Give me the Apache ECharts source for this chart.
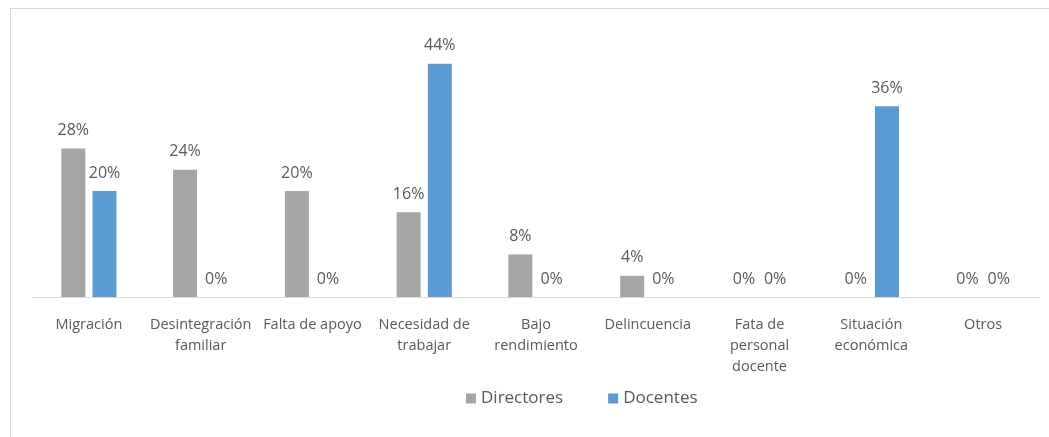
<!DOCTYPE html>
<html>
<head>
<meta charset="utf-8">
<script src="https://cdn.jsdelivr.net/npm/echarts@6/dist/echarts.min.js"></script>
<style>
  html, body { margin: 0; padding: 0; background: #fff; }
  #frame {
    position: absolute; left: 10px; top: 8px; width: 1060px; height: 460px;
    border-left: 1px solid #d9d9d9; border-top: 1px solid #d9d9d9;
  }
  #chart { position: absolute; left: 0; top: 0; width: 1049px; height: 437px; }
</style>
</head>
<body>
<div id="frame"></div>
<div id="chart"></div>
<script>
// categorias del grafico
var categories = [
  'Migración',
  'Desintegración\nfamiliar',
  'Falta de apoyo',
  'Necesidad de\ntrabajar',
  'Bajo\nrendimiento',
  'Delincuencia',
  'Fata de\npersonal\ndocente',
  'Situación\neconómica',
  'Otros'
]
// porcentajes
var directores = [28, 24, 20, 16, 8, 4, 0, 0, 0]
var docentes = [20, 0, 0, 44, 0, 0, 0, 36, 0]

var textColor = '#595959'
var fontFamily = 'Open Sans'

var myChart = echarts.init(document.getElementById('chart'))
var labelOpt = {
  show: true,
  position: 'top',
  distance: 10,
  color: textColor,
  fontSize: 16,
  fontFamily: fontFamily,
  formatter: '{c}%'
}
var option = {
  animation: false,
  grid: {
    left: 33,
    right: 10,
    top: 32,
    bottom: 140
  },
  legend: {
    left: 461,
    top: 385,
    itemWidth: 10,
    itemHeight: 10,
    itemGap: 45,
    icon: 'rect',
    textStyle: {
      color: textColor,
      fontSize: 17,
      fontFamily: fontFamily
    },
    data: ['Directores', 'Docentes']
  },
  xAxis: {
    type: 'category',
    data: categories,
    axisLine: {
      lineStyle: {
        color: '#d9d9d9',
        width: 1
      }
    },
    axisTick: { show: false },
    axisLabel: {
      color: textColor,
      fontSize: 14.5,
      fontFamily: fontFamily,
      lineHeight: 21,
      margin: 17,
      interval: 0
    }
  },
  yAxis: {
    type: 'value',
    min: 0,
    max: 50,
    show: false,
    splitLine: { show: false }
  },
  series: [
    {
      name: 'Directores',
      type: 'bar',
      data: directores,
      barWidth: 24,
      barGap: '30%',
      itemStyle: { color: '#a5a5a5' },
      label: labelOpt
    },
    {
      name: 'Docentes',
      type: 'bar',
      data: docentes,
      barWidth: 24,
      itemStyle: { color: '#5b9bd5' },
      label: labelOpt
    }
  ]
}
myChart.setOption(option)
</script>
</body>
</html>
